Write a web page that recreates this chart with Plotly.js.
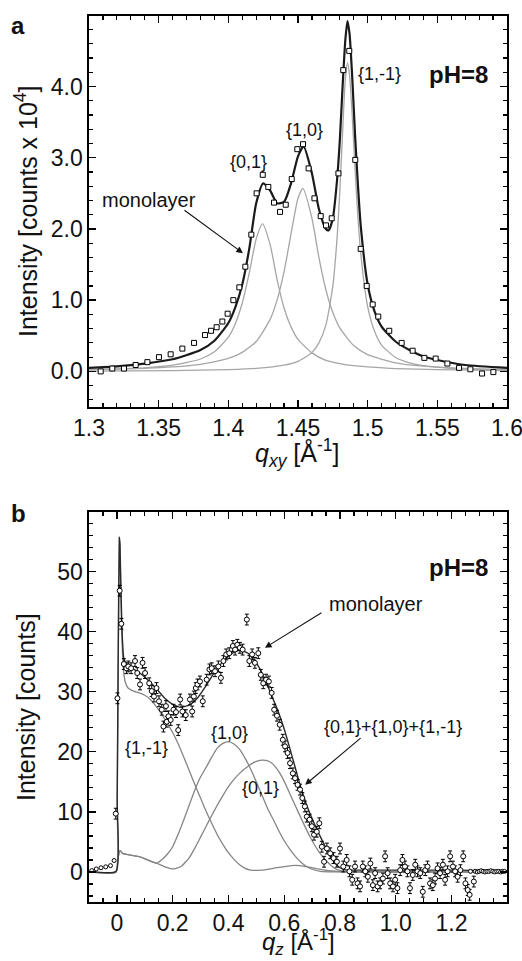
<!DOCTYPE html>
<html><head><meta charset="utf-8">
<script src="https://cdn.plot.ly/plotly-3.0.1.min.js"></script>
<style>html,body{margin:0;padding:0;background:#fff}#plot{width:522px;height:961px}</style>
</head><body><div id="plot"></div>
<script>
// ---------- Panel a : in-plane scan ----------
const qxyData = [1.3084,1.3167,1.3251,1.3335,1.3419,1.3502,1.3586,1.3670,1.3754,1.3833,1.3876,1.3916,1.3957,1.3995,1.4036,1.4079,1.4122,1.4165,1.4203,1.4247,1.4287,1.4328,1.4371,1.4412,1.4455,1.4495,1.4536,1.4576,1.4618,1.4663,1.4701,1.4742,1.4790,1.4825,1.4868,1.4911,1.4950,1.4993,1.5036,1.5076,1.5155,1.5244,1.5323,1.5407,1.5488,1.5572,1.5656,1.5737,1.5821,1.5902];
const intData = [0.00,0.04,0.04,0.09,0.13,0.20,0.24,0.32,0.40,0.51,0.57,0.62,0.70,0.81,1.00,1.18,1.47,1.92,2.50,2.76,2.59,2.37,2.24,2.34,2.70,3.12,3.19,2.85,2.43,2.18,2.05,2.15,2.78,4.23,4.50,2.97,1.72,1.20,0.94,0.77,0.57,0.40,0.29,0.19,0.18,0.11,0.05,0.03,-0.03,-0.01];

const qxyFit = [1.30,1.32,1.34,1.36,1.38,1.39,1.40,1.405,1.41,1.415,1.42,1.425,1.43,1.435,1.44,1.445,1.45,1.454,1.46,1.465,1.47,1.472,1.475,1.478,1.48,1.482,1.484,1.4855,1.487,1.489,1.491,1.493,1.495,1.50,1.505,1.51,1.52,1.53,1.54,1.55,1.57,1.60];
const intFit = [0.05,0.07,0.11,0.17,0.30,0.43,0.68,0.90,1.22,1.72,2.36,2.64,2.54,2.36,2.38,2.64,3.02,3.16,2.78,2.28,2.00,1.98,2.15,2.68,3.24,4.00,4.66,4.92,4.74,4.10,3.30,2.62,2.05,1.22,0.84,0.63,0.42,0.30,0.21,0.16,0.09,0.05];

const qxyP01 = [1.30,1.34,1.36,1.38,1.39,1.40,1.405,1.41,1.415,1.42,1.4245,1.43,1.435,1.44,1.445,1.45,1.46,1.47,1.48,1.49,1.50,1.52,1.55,1.60];
const intP01 = [0.024,0.05,0.087,0.174,0.275,0.48,0.67,0.96,1.38,1.86,2.07,1.78,1.29,0.89,0.625,0.45,0.26,0.155,0.11,0.08,0.064,0.04,0.024,0.012];

const qxyP10 = [1.30,1.34,1.36,1.38,1.40,1.41,1.42,1.43,1.435,1.44,1.445,1.45,1.4535,1.46,1.465,1.47,1.475,1.48,1.49,1.50,1.52,1.54,1.57,1.60];
const intP10 = [0.024,0.043,0.063,0.10,0.183,0.267,0.42,0.73,1.00,1.40,1.93,2.43,2.57,2.15,1.60,1.146,0.826,0.61,0.363,0.236,0.121,0.073,0.041,0.026];

const qxyP1m1 = [1.30,1.36,1.40,1.42,1.44,1.45,1.46,1.465,1.47,1.475,1.478,1.480,1.482,1.484,1.4855,1.487,1.489,1.491,1.493,1.495,1.50,1.505,1.51,1.52,1.53,1.54,1.56,1.60];
const intP1m1 = [0.005,0.012,0.025,0.042,0.087,0.14,0.264,0.40,0.65,1.20,1.86,2.52,3.36,4.11,4.33,4.16,3.56,2.82,2.17,1.66,0.91,0.56,0.37,0.195,0.12,0.08,0.043,0.0185];

const xTicksA = [1.3,1.35,1.4,1.45,1.5,1.55,1.6];
const xTickTextA = ['1.3','1.35','1.4','1.45','1.5','1.55','1.6'];
const yTicksA = [0,1,2,3,4];
const yTickTextA = ['0.0','1.0','2.0','3.0','4.0'];

// ---------- Panel b : Bragg rods ----------
const qzEdge = [-0.090,-0.074,-0.057,-0.040,-0.023,-0.010];
const intEdge = [0.22,0.5,0.7,0.85,1.05,1.9];

const qzData = [-0.004,0.002,0.010,0.016,0.025,0.034,0.041,0.051,0.065,0.073,0.083,0.092,0.101,0.116,0.125,0.133,0.142,0.151,0.161,0.167,0.176,0.179,0.185,0.193,0.203,0.212,0.220,0.227,0.235,0.247,0.262,0.270,0.276,0.283,0.289,0.298,0.308,0.322,0.332,0.340,0.352,0.364,0.373,0.382,0.392,0.403,0.416,0.424,0.432,0.441,0.451,0.466,0.475,0.485,0.495,0.507,0.516,0.525,0.535,0.545,0.555,0.564,0.574,0.584,0.595,0.603,0.612,0.621,0.631,0.639,0.648,0.657,0.665,0.674,0.681,0.691,0.699,0.707,0.717,0.726,0.735,0.743,0.753,0.765,0.777,0.789,0.800,0.812,0.824,0.834,0.844,0.854,0.863,0.872,0.882,0.891,0.900,0.909,0.918,0.926,0.935,0.944,0.954,0.962,0.971,0.980,0.990,0.998,1.006,1.016,1.024,1.033,1.042,1.051,1.061,1.070,1.078,1.088,1.097,1.106,1.114,1.123,1.133,1.141,1.150,1.159,1.169,1.177,1.186,1.195,1.205,1.213,1.222,1.232,1.242,1.250,1.258,1.265,1.280];
const intDataB = [9.7,28.9,46.8,41.3,34.6,33.9,34.2,33.9,35.1,33.1,31.2,34.8,33.1,31.4,30.1,29.2,30.6,28.4,27.0,24.2,27.6,25.0,25.9,25.3,27.0,26.6,23.6,28.7,26.7,26.1,28.7,26.7,29.2,30.6,31.2,31.7,28.4,32.0,33.7,33.9,33.4,34.2,32.3,35.1,36.2,36.4,37.6,37.0,37.8,37.3,37.0,42.0,35.1,36.2,34.8,36.4,32.8,31.4,32.0,31.7,29.8,27.0,26.0,24.5,22.0,20.9,19.8,18.1,16.4,15.6,14.5,13.7,12.3,10.9,9.2,8.7,7.6,6.2,6.7,8.1,4.2,1.7,3.9,3.1,2.3,1.7,3.9,0.9,2.0,0.1,-1.3,0.9,-1.9,-2.4,0.9,0.1,-0.8,1.4,-2.2,-0.2,-2.4,-1.9,-1.1,2.6,-0.2,-1.9,-2.4,-1.3,-2.7,0.3,2.0,0.9,0.1,-2.7,-0.5,1.2,0.1,-0.2,-3.3,0.3,0.9,-1.9,-2.2,-1.1,0.6,-0.2,1.2,-1.3,0.1,2.6,0.9,0.1,-0.8,0.3,2.6,-1.9,-3.0,-3.8,-1.6];

const qzTail = [1.268,1.285,1.292,1.299,1.306,1.313,1.320,1.327,1.334,1.341,1.348,1.355,1.362,1.369,1.376,1.383,1.390];
const intTail = [0.1,0.1,0.0,0.1,0.2,0.1,0.0,0.1,0.1,0.2,0.1,0.0,0.1,0.1,0.0,0.1,0.1];

const qzFit = [-0.10,-0.003,0.001,0.005,0.009,0.011,0.014,0.017,0.020,0.025,0.035,0.05,0.08,0.11,0.14,0.17,0.20,0.23,0.26,0.29,0.32,0.35,0.38,0.41,0.44,0.47,0.50,0.53,0.56,0.58,0.60,0.62,0.64,0.66,0.68,0.70,0.72,0.74,0.76,0.78,0.80,0.82,0.86,1.0,1.2,1.4];
const intFitB = [0.1,0.1,12,38,55.7,54.5,48,42.5,38.5,35.5,34.6,34.0,33.2,32.0,30.6,29.0,27.9,27.4,27.8,29.0,31.0,33.2,35.0,36.3,36.9,36.4,34.8,32.2,28.8,26.5,23.8,20.6,17.3,14.0,11.2,8.9,6.8,4.9,3.1,1.6,0.7,0.35,0.3,0.3,0.3,0.2];

const qzR1m1 = [-0.10,-0.003,0.001,0.005,0.009,0.011,0.014,0.017,0.020,0.025,0.03,0.04,0.06,0.08,0.10,0.12,0.14,0.16,0.18,0.20,0.22,0.24,0.26,0.28,0.30,0.32,0.34,0.36,0.38,0.40,0.42,0.44,0.46,0.48,0.52,0.56,0.60,0.64,0.68,0.72,0.76,0.80,1.40];
const intR1m1 = [0,0,10,35,55.5,54,47,41,36.5,33,31.6,30.6,30.1,29.8,29.4,28.7,27.6,26.3,24.8,23.2,21.3,19.1,16.8,14.5,12.3,10.1,8.1,6.2,4.6,3.2,2.1,1.2,0.6,0.3,0.3,0.6,0.9,1.1,0.9,0.5,0.2,0.05,0];

const qzR10 = [-0.10,-0.003,0.003,0.011,0.02,0.05,0.083,0.11,0.143,0.16,0.18,0.20,0.22,0.24,0.26,0.28,0.30,0.32,0.34,0.36,0.38,0.40,0.42,0.44,0.46,0.48,0.50,0.52,0.54,0.56,0.58,0.60,0.62,0.64,0.66,0.68,0.70,0.73,0.78,1.40];
const intR10 = [0,0,2.0,3.6,3.1,2.8,2.5,2.0,1.45,2.0,2.9,4.2,6.3,8.7,11.2,13.7,15.8,17.4,19.1,20.6,21.4,21.7,21.3,20.4,18.9,17.1,15.0,12.8,10.6,8.8,6.9,5.2,3.8,2.6,1.6,0.9,0.45,0.1,0,0];

const qzR01 = [-0.10,-0.003,0.003,0.011,0.02,0.05,0.083,0.11,0.143,0.17,0.20,0.23,0.26,0.28,0.30,0.32,0.34,0.36,0.38,0.40,0.42,0.44,0.46,0.48,0.50,0.525,0.55,0.57,0.59,0.61,0.63,0.65,0.67,0.69,0.71,0.73,0.75,0.77,0.79,0.82,0.86,1.40];
const intR01 = [0,0,2.0,3.6,3.1,2.8,2.5,2.0,1.45,0.9,0.5,0.9,2.4,4.0,5.8,7.6,9.4,11.1,12.7,14.2,15.4,16.4,17.2,17.9,18.4,18.6,18.3,17.4,16.0,14.1,12.0,10.0,8.0,6.1,4.4,3.0,1.9,1.0,0.4,0.1,0,0];

const xTicksB = [0,0.2,0.4,0.6,0.8,1.0,1.2];
const xTickTextB = ['0','0.2','0.4','0.6','0.8','1.0','1.2'];
const yTicksB = [0,10,20,30,40,50];
const yTickTextB = ['0','10','20','30','40','50'];

// ---------- drawing ----------
const W = 522, H = 961;
const FONT = 'Liberation Sans, Arial, Helvetica, sans-serif';
const px = v => v / W, py = v => 1 - v / H;
const gA = '#a6a6a6', gB = '#858585';

const traces = [
  {x:qxyP01, y:intP01, xaxis:'x', yaxis:'y', mode:'lines', line:{color:gA, width:1.3, shape:'spline', smoothing:0.6}},
  {x:qxyP10, y:intP10, xaxis:'x', yaxis:'y', mode:'lines', line:{color:gA, width:1.3, shape:'spline', smoothing:0.6}},
  {x:qxyP1m1, y:intP1m1, xaxis:'x', yaxis:'y', mode:'lines', line:{color:gA, width:1.3, shape:'spline', smoothing:0.6}},
  {x:qxyFit, y:intFit, xaxis:'x', yaxis:'y', mode:'lines', line:{color:'#1a1a1a', width:2.2, shape:'spline', smoothing:0.6}},
  {x:qxyData, y:intData, xaxis:'x', yaxis:'y', mode:'markers', marker:{symbol:'square', size:5, color:'#fff', line:{color:'#000', width:1}}},

  {x:qzR1m1, y:intR1m1, xaxis:'x2', yaxis:'y2', mode:'lines', line:{color:gB, width:1.3, shape:'spline', smoothing:0.5}},
  {x:qzR10, y:intR10, xaxis:'x2', yaxis:'y2', mode:'lines', line:{color:gB, width:1.3, shape:'spline', smoothing:0.5}},
  {x:qzR01, y:intR01, xaxis:'x2', yaxis:'y2', mode:'lines', line:{color:gB, width:1.3, shape:'spline', smoothing:0.5}},
  {x:qzFit, y:intFitB, xaxis:'x2', yaxis:'y2', mode:'lines', line:{color:'#2a2a2a', width:1.4, shape:'spline', smoothing:0.5}},
  {x:qzEdge, y:intEdge, xaxis:'x2', yaxis:'y2', mode:'markers', marker:{symbol:'circle', size:4, color:'#fff', line:{color:'#000', width:1}}},
  {x:qzData, y:intDataB, xaxis:'x2', yaxis:'y2', mode:'markers',
   error_y:{type:'constant', value:0.9, thickness:1, width:2, color:'#000'},
   marker:{symbol:'circle', size:5, color:'#fff', line:{color:'#000', width:1}}},
  {x:qzTail, y:intTail, xaxis:'x2', yaxis:'y2', mode:'markers', marker:{symbol:'circle', size:4, color:'#fff', line:{color:'#000', width:1}}},
  {x:[-0.1], y:[60], xaxis:'x2', yaxis:'y2', mode:'markers', cliponaxis:false, marker:{size:13, color:'#000'}}
];

const axBase = {showline:true, linecolor:'#000', linewidth:1.6, mirror:'ticks', ticks:'inside', ticklen:7, tickwidth:1.4, tickcolor:'#000',
  showgrid:false, zeroline:false, ticklabeloverflow:'allow', tickfont:{family:FONT, size:23, color:'#111'}, fixedrange:true};

const layout = {
  width:W, height:H, margin:{l:0, r:0, t:0, b:0}, paper_bgcolor:'#fff', plot_bgcolor:'#fff', showlegend:false,
  font:{family:FONT, color:'#111'},
  xaxis:Object.assign({}, axBase, {domain:[px(89), px(507)], anchor:'y', range:[1.3,1.6], tickmode:'array', tickvals:xTicksA, ticktext:xTickTextA,
    minor:{tickmode:'linear', tick0:1.3, dtick:0.01, ticks:'inside', ticklen:4, tickwidth:1.2, tickcolor:'#000'}}),
  yaxis:Object.assign({}, axBase, {domain:[py(407), py(16)], anchor:'x', range:[-0.5,4.99], tickmode:'array', tickvals:yTicksA, ticktext:yTickTextA,
    minor:{tickmode:'linear', tick0:0, dtick:0.2, ticks:'inside', ticklen:4, tickwidth:1.2, tickcolor:'#000'}}),
  xaxis2:Object.assign({}, axBase, {domain:[px(89), px(507)], anchor:'y2', range:[-0.1,1.399], tickmode:'array', tickvals:xTicksB, ticktext:xTickTextB,
    minor:{tickmode:'linear', tick0:0, dtick:0.05, ticks:'inside', ticklen:4, tickwidth:1.2, tickcolor:'#000'}}),
  yaxis2:Object.assign({}, axBase, {domain:[py(902), py(512)], anchor:'x2', range:[-5,59.9], tickmode:'array', tickvals:yTicksB, ticktext:yTickTextB,
    minor:{tickmode:'linear', tick0:0, dtick:2, ticks:'inside', ticklen:4, tickwidth:1.2, tickcolor:'#000'}}),
  annotations:[]
};

function txt(t, x, y, size, opts) {
  return Object.assign({text:t, xref:'paper', yref:'paper', x:px(x), y:py(y), xanchor:'center', yanchor:'middle', showarrow:false,
    font:{family:FONT, size:size, color:'#111'}}, opts || {});
}
const A = layout.annotations;
A.push(txt('<b>a</b>', 18, 26, 24));
A.push(txt('<b>b</b>', 18, 513, 24));
A.push(txt('<b>pH=8</b>', 490, 75, 24, {xanchor:'right'}));
A.push(txt('<b>pH=8</b>', 490, 567, 24, {xanchor:'right'}));
A.push(txt('{1,-1}', 379, 74, 18));
A.push(txt('{1,0}', 304, 130, 18));
A.push(txt('{0,1}', 248, 162, 18));
A.push(txt('monolayer', 149, 200, 20));
A.push(txt('monolayer', 376, 604, 20));
A.push(txt('{0,1}+{1,0}+{1,-1}', 393, 727, 18));
A.push(txt('{1,-1}', 146, 748, 18));
A.push(txt('{1,0}', 229, 733, 18));
A.push(txt('{0,1}', 260, 788, 18));
A.push(txt('<i>q</i><sub><i>xy</i></sub> [Å<sup>-1</sup>]', 297, 453, 25));
A.push(txt('<i>q</i><sub><i>z</i></sub> [Å<sup>-1</sup>]', 298, 942, 24));
A.push(txt('Intensity [counts x 10<sup>4</sup>]', 26, 211, 25, {textangle:-90}));
A.push(txt('Intensity [counts]', 26, 707, 25, {textangle:-90}));
const arrow = (xr, yr, x, y, ax, ay) => ({text:'', xref:xr, yref:yr, x:x, y:y, ax:ax, ay:ay, axref:'pixel', ayref:'pixel',
  showarrow:true, arrowhead:2, arrowsize:1.2, arrowwidth:1.1, arrowcolor:'#111'});
A.push(arrow('x', 'y', 1.4105, 1.66, -60, -44));
A.push(arrow('x2', 'y2', 0.531, 37.3, 58, -36));
A.push(arrow('x2', 'y2', 0.675, 14.5, 57, -48));

Plotly.newPlot('plot', traces, layout, {staticPlot:true, displayModeBar:false});
</script></body></html>
